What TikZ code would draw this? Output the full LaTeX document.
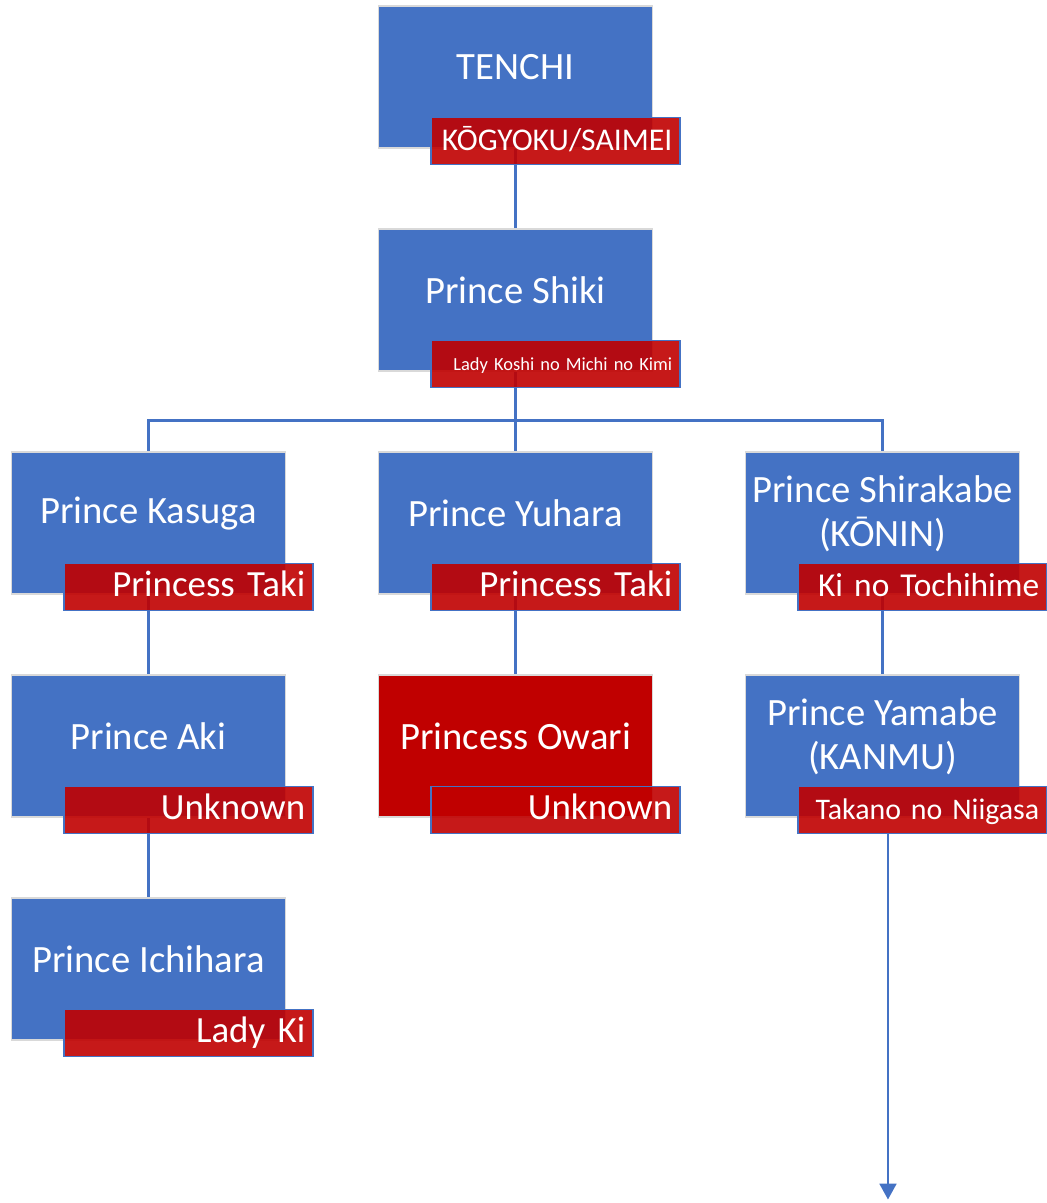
\documentclass[tikz,border=0pt]{standalone}
\usepackage{fontspec}
\setmainfont{Carlito}
\usetikzlibrary{positioning,arrows.meta,backgrounds}
\definecolor{boxblue}{HTML}{4472C4}
\definecolor{boxred}{HTML}{C00000}
\begin{document}
\begin{tikzpicture}[node distance=4.46cm and 7.34cm,on grid,
	person/.style={rectangle,fill=boxblue,draw=gray!30,line width=0.6pt,minimum width=5.48cm,minimum height=2.84cm,label={[nametext]center:#1}},
	nametext/.style={text=white,font=\fontsize{22}{25}\selectfont,align=center,yshift=0.19cm},
	spouse/.style={rectangle,fill=boxred,fill opacity=0.9,text opacity=1,draw=boxblue,line width=0.9pt,text=white,minimum width=4.98cm,minimum height=0.94cm,text width=4.66cm,inner xsep=0.16cm,inner ysep=0pt,align=right,text height=0.55cm,text depth=0.15cm,font=\fontsize{21}{25}\selectfont,anchor=north east,xshift=0.56cm,yshift=0.64cm},
	link/.style={draw=boxblue,line width=1.4pt}]
				\useasboundingbox (-10.31,1.54) rectangle (10.63,-22.52);
				\node[person=TENCHI] (tenchi) {};
				\node[person={Prince Shiki}] (shiki) [below=of tenchi] {};
				\node[person={Prince Yuhara}] (yuhara) [below=of shiki] {};
				\node[person={Prince Kasuga}] (kasuga) [left=of yuhara] {};
				\node[person={Prince Shirakabe\\(KŌNIN)}] (shirakabe) [right=of yuhara] {};
				\node[person={Prince Aki}] (aki) [below=of kasuga] {};
				\node[person={Princess Owari},fill=boxred] (owari) [below=of yuhara] {};
				\node[person={Prince Yamabe\\(KANMU)}] (yamabe) [below=of shirakabe] {};
				\node[person={Prince Ichihara}] (ichihara) [below=of aki] {};
				\node[spouse,font=\fontsize{18}{22}\selectfont] (tenchiW) at (tenchi.south east) {KŌGYOKU/SAIMEI};
				\node[spouse,font=\fontsize{10.5}{13}\selectfont,text height=0.3cm,text depth=0.05cm] (shikiW) at (shiki.south east) {Lady Koshi no Michi no Kimi};
				\node[spouse] (kasugaW) at (kasuga.south east) {Princess Taki};
				\node[spouse] (yuharaW) at (yuhara.south east) {Princess Taki};
				\node[spouse,font=\fontsize{19}{23}\selectfont] (shirakabeW) at (shirakabe.south east) {Ki no Tochihime};
				\node[spouse] (akiW) at (aki.south east) {Unknown};
				\node[spouse] (owariW) at (owari.south east) {Unknown};
				\node[spouse,font=\fontsize{17}{21}\selectfont] (yamabeW) at (yamabe.south east) {Takano no Niigasa};
				\node[spouse] (ichiharaW) at (ichihara.south east) {Lady Ki};
				\begin{scope}[on background layer]
				\coordinate[below=0.98cm of shiki.south] (fork);
				\path[link]
				(tenchi) edge (shiki)
				(shiki) edge (fork)
				(fork) edge (yuhara)
				(kasuga) edge (aki)
				(aki) edge (ichihara)
				(yuhara) edge (owari)
				(shirakabe) edge (yamabe);
				\draw[link] (kasuga.north) |- (fork) -| (shirakabe.north);
				\end{scope}
				\coordinate[below=7.64cm of yamabe.south,xshift=0.11cm] (later);
				\draw[link,-{Triangle[width=9.5pt,length=9pt]}] (yamabeW.south -| later) -- (later);
			\end{tikzpicture}
\end{document}
